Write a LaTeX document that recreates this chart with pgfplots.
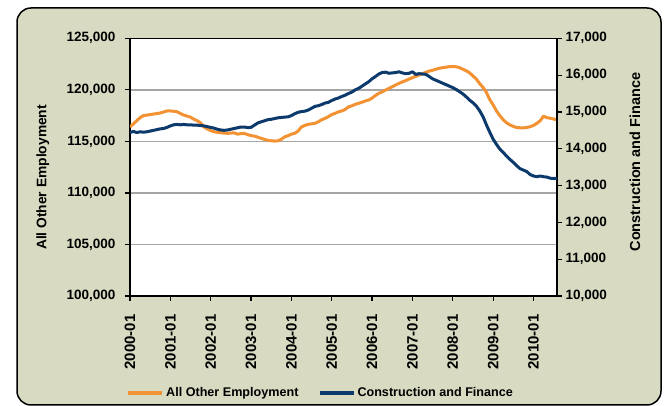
\documentclass[border=0pt]{standalone}
\usepackage{fontspec}
\setmainfont{Liberation Sans}
\usepackage{pgfplots}
\pgfplotsset{compat=1.18}
\usepackage{pgfplotstable}
\definecolor{bgc}{HTML}{D8DBC1}
\definecolor{orng}{HTML}{F39232}
\definecolor{navy}{HTML}{0D3A6C}
\definecolor{gridc}{HTML}{A6A6A6}

\pgfplotstableread{
m other constr
0 116400 14440
1 116700 14470
2 117000 14440
3 117300 14460
4 117500 14450
5 117550 14460
6 117600 14480
7 117650 14500
8 117700 14520
9 117750 14540
10 117850 14550
11 117950 14580
12 117950 14620
13 117920 14650
14 117870 14660
15 117700 14650
16 117550 14660
17 117450 14650
18 117350 14650
19 117150 14640
20 117000 14640
21 116800 14630
22 116400 14620
23 116200 14600
24 116050 14580
25 115930 14560
26 115880 14530
27 115850 14510
28 115800 14500
29 115780 14510
30 115800 14530
31 115830 14550
32 115700 14570
33 115750 14590
34 115770 14590
35 115650 14575
36 115560 14580
37 115510 14640
38 115400 14700
39 115300 14730
40 115190 14760
41 115100 14790
42 115060 14800
43 115030 14820
44 115050 14840
45 115200 14850
46 115440 14860
47 115550 14865
48 115700 14900
49 115780 14950
50 116000 14990
51 116400 15010
52 116550 15020
53 116650 15050
54 116700 15100
55 116750 15150
56 116900 15170
57 117100 15200
58 117230 15240
59 117400 15260
60 117600 15310
61 117720 15350
62 117870 15380
63 117950 15420
64 118100 15455
65 118350 15500
66 118450 15540
67 118600 15600
68 118690 15640
69 118800 15700
70 118920 15760
71 119010 15820
72 119200 15900
73 119450 15960
74 119660 16030
75 119800 16070
76 119980 16080
77 120140 16050
78 120300 16060
79 120470 16070
80 120630 16090
81 120770 16060
82 120900 16040
83 121050 16050
84 121180 16090
85 121310 16020
86 121440 16040
87 121570 16030
88 121700 16020
89 121820 15960
90 121900 15900
91 122000 15860
92 122090 15820
93 122150 15780
94 122200 15740
95 122250 15700
96 122250 15660
97 122240 15610
98 122150 15550
99 122000 15490
100 121850 15410
101 121650 15320
102 121350 15250
103 121050 15160
104 120600 15030
105 120250 14870
106 119750 14650
107 119050 14450
108 118550 14260
109 117950 14120
110 117500 13990
111 117100 13900
112 116800 13800
113 116600 13710
114 116450 13630
115 116350 13540
116 116320 13460
117 116300 13420
118 116350 13380
119 116420 13300
120 116550 13260
121 116750 13240
122 117000 13260
123 117450 13240
124 117300 13230
125 117250 13200
126 117160 13190
127 117100 13200
}\data

\begin{document}
\begin{tikzpicture}[x=1pt,y=1pt]
\useasboundingbox (0,0) rectangle (666,406);
\fill[white] (0,0) rectangle (666,406);
\draw[fill=bgc, line width=1.5pt, rounded corners=14pt] (17,1) rectangle (661,398);
\begin{axis}[
  at={(130pt,110pt)}, anchor=south west, scale only axis,
  width=427pt, height=257.7pt,
  xmin=0, xmax=127, ymin=100000, ymax=125000,
  scaled y ticks=false,
  axis background/.style={fill=white},
  axis line style={line width=1.2pt, black},
  tick style={black, line width=1.2pt},
  major tick length=5pt, tick align=outside,
  xtick pos=bottom, ytick pos=left,
  xtick={0,12,...,120},
  xticklabels={2000-01,2001-01,2002-01,2003-01,2004-01,2005-01,2006-01,2007-01,2008-01,2009-01,2010-01},
  xticklabel shift=10pt,
  x tick label style={rotate=90, anchor=east, font=\fontsize{15}{16}\selectfont\bfseries},
  ytick={100000,105000,110000,115000,120000,125000},
  yticklabels={{100,000},{105,000},{110,000},{115,000},{120,000},{125,000}},
  yticklabel shift=6pt,
  y tick label style={font=\fontsize{13.5}{15}\selectfont\bfseries},
  ymajorgrids, grid style={gridc, line width=1.5pt},
  ylabel={All Other Employment},
  ylabel style={at={(axis description cs:-0.204,0.46)}, anchor=center, font=\fontsize{13.8}{15}\selectfont\bfseries},
  legend columns=2,
  legend style={at={(axis description cs:-0.0094,-0.376)}, anchor=west, draw=none, fill=none, inner sep=0pt,
    font=\fontsize{12.6}{14}\selectfont\bfseries,
    /tikz/every even column/.append style={column sep=17pt}},
  legend image code/.code={\draw[#1, line width=4pt] (0pt,0pt) -- (34pt,0pt);},
]
\addplot[orng, line width=3pt, line join=round] table[x=m, y=other] {\data};
\addlegendentry{All Other Employment}
\addlegendimage{navy, line width=3pt}
\addlegendentry{Construction and Finance}
\end{axis}
\begin{axis}[
  at={(130pt,110pt)}, anchor=south west, scale only axis,
  width=427pt, height=257.7pt,
  xmin=0, xmax=127, ymin=10000, ymax=17000,
  scaled y ticks=false,
  axis x line=none, axis y line*=right,
  axis line style={line width=1.2pt, black},
  tick style={black, line width=1.2pt},
  major tick length=5pt, tick align=outside,
  ytick={10000,11000,...,17000},
  yticklabels={{10,000},{11,000},{12,000},{13,000},{14,000},{15,000},{16,000},{17,000}},
  y tick label style={font=\fontsize{13.5}{15}\selectfont\bfseries},
  ylabel={Construction and Finance},
  ylabel style={at={(axis description cs:1.1826,0.52)}, anchor=center, font=\fontsize{14.5}{16}\selectfont\bfseries},
]
\addplot[navy, line width=3pt, line join=round] table[x=m, y=constr] {\data};
\end{axis}
\draw[black, line width=1.2pt] (130,367.7) -- (557,367.7);
\end{tikzpicture}
\end{document}
